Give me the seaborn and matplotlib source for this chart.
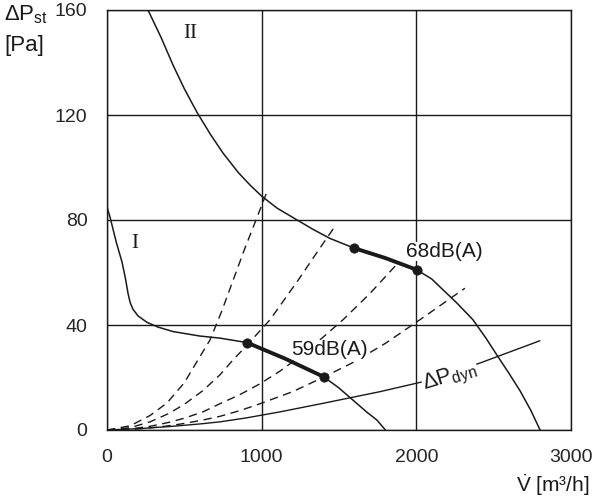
import matplotlib
matplotlib.use("Agg")
import matplotlib.pyplot as plt
import seaborn as sns

# ---- data ----
curve1_x = [0, 20, 60, 97, 120, 136, 150, 168, 200, 259, 330, 427, 600, 730, 905, 1151, 1403, 1500, 1590, 1680, 1745, 1800]
curve1_y = [85, 81, 71.5, 64, 57.5, 52, 48.5, 46, 43.5, 41, 39.2, 37.5, 35.8, 35, 33.3, 27.2, 20.2, 16, 11.4, 6.8, 3.8, 0]

curve2_x = [265, 350, 427, 500, 582, 670, 750, 850, 930, 1002, 1100, 1215, 1330, 1441, 1597, 1800, 2004,
            2100, 2153, 2260, 2366, 2450, 2527, 2600, 2670, 2740, 2800]
curve2_y = [160, 149.5, 139, 130, 121, 112.5, 105.5, 98, 93, 89, 84.5, 80.5, 76.5, 73, 69.3, 65.5, 61,
            57.5, 54.5, 48.5, 42, 35, 28, 21.5, 15, 7.5, 0]

thick1_x = [905, 1151, 1403]
thick1_y = [33.3, 27.2, 20.2]
thick2_x = [1597, 1800, 2004]
thick2_y = [69.3, 65.5, 61]

dash1_x = [0, 150, 278, 388, 500, 588, 666, 740, 815, 890, 970, 1041]
dash1_y = [0, 1.6, 5.5, 10.3, 18, 26.7, 34.3, 45, 57, 69, 81, 91.8]
dash2_x = [0, 150, 278, 400, 500, 620, 730, 815, 900, 1054, 1235, 1350, 1467]
dash2_y = [0, 0.9, 3.1, 6.3, 9.8, 15, 21, 26.7, 32, 42, 57, 67, 77]
dash3_x = [0, 150, 278, 400, 500, 620, 730, 860, 989, 1120, 1248, 1390, 1526, 1700, 1881]
dash3_y = [0, 0.4, 1.4, 2.9, 4.5, 6.9, 10, 13.5, 17.6, 22.5, 28, 35, 42, 52, 63.6]
dash4_x = [0, 150, 278, 400, 500, 620, 730, 860, 989, 1200, 1403, 1600, 1800, 2023, 2314]
dash4_y = [0, 0.2, 0.8, 1.6, 2.5, 3.8, 5.2, 7.4, 10, 14.6, 20.2, 26, 33, 42, 54]

dyn_x = [0, 200, 400, 600, 730, 900, 1118, 1400, 1765, 2043, 2411, 2799]
dyn_y = [0, 0.5, 1.3, 2.3, 3.1, 4.6, 6.9, 10.2, 14.6, 18.4, 25.5, 34]

x_ticks = [0, 1000, 2000, 3000]
y_ticks = [0, 40, 80, 120, 160]

# ---- style ----
sns.set_style("white")
plt.rcParams["font.family"] = ["Liberation Sans", "DejaVu Sans"]
plt.rcParams["mathtext.fontset"] = "custom"
plt.rcParams["mathtext.rm"] = "Liberation Sans"
plt.rcParams["mathtext.it"] = "Liberation Sans:italic"
plt.rcParams["mathtext.bf"] = "Liberation Sans:bold"

INK = "#1a1a1a"
fig = plt.figure(figsize=(6, 5), dpi=100)
ax = fig.add_axes([107 / 600, 70 / 500, 464 / 600, 420 / 500])

def line(x, y, **kw):
    sns.lineplot(x=x, y=y, sort=False, estimator=None, ax=ax, color=INK, **kw)

dash = (0, (6, 4))
for dx, dy in [(dash1_x, dash1_y), (dash2_x, dash2_y), (dash3_x, dash3_y), (dash4_x, dash4_y)]:
    line(dx, dy, linewidth=1.0, linestyle=dash, zorder=2)

line(dyn_x, dyn_y, linewidth=1.0, zorder=2)
line(curve1_x, curve1_y, linewidth=1.1, zorder=4)
line(curve2_x, curve2_y, linewidth=1.1, zorder=4)
line(thick1_x, thick1_y, linewidth=2.8, zorder=4)
line(thick2_x, thick2_y, linewidth=2.8, zorder=4)

dots_x = [thick1_x[0], thick1_x[-1], thick2_x[0], thick2_x[-1]]
dots_y = [thick1_y[0], thick1_y[-1], thick2_y[0], thick2_y[-1]]
sns.scatterplot(x=dots_x, y=dots_y, ax=ax, color=INK, s=45, edgecolor=INK, zorder=5)

ax.set_xlim(0, 3000)
ax.set_ylim(0, 160)
ax.set_xticks(x_ticks)
ax.set_yticks(y_ticks)
ax.set_xticklabels([str(v) for v in x_ticks], fontsize=14)
ax.set_yticklabels([str(v) for v in y_ticks], fontsize=14)
ax.grid(True, color=INK, linewidth=1.0)
ax.set_axisbelow(True)
for s in ax.spines.values():
    s.set_visible(True)
    s.set_color(INK)
    s.set_linewidth(1.0)
ax.tick_params(direction="out", length=8, width=1.0, color=INK, pad=6)
ax.tick_params(axis="x", pad=6)
ax.set_xlabel("")
ax.set_ylabel("")

# annotations
box = dict(facecolor="white", edgecolor="none", pad=0.3)
ax.text(537, 151, "II", family="Liberation Serif", fontsize=15, ha="center", va="center", color=INK)
ax.text(181, 71, "I", family="Liberation Serif", fontsize=15, ha="center", va="center", color=INK)
ax.text(1441, 30.5, "59dB(A)", fontsize=15, ha="center", va="center", color=INK, zorder=3, bbox=box)
ax.text(2178, 68, "68dB(A)", fontsize=15, ha="center", va="center", color=INK, zorder=3, bbox=box)
ax.text(2220, 20, r"$\mathrm{\Delta P}_{\mathrm{dyn}}$", fontsize=16, ha="center", va="center",
        rotation=17, color=INK, zorder=3, bbox=dict(facecolor="white", edgecolor="none", pad=0.5))

fig.text(4 / 600, 1 - 3 / 500, r"$\mathrm{\Delta P}_{\mathrm{st}}$", fontsize=16, ha="left", va="top", color=INK)
fig.text(4 / 600, 1 - 46 / 500, "[Pa]", fontsize=16, ha="left", va="center", color=INK)
fig.text(590 / 600, 1 - 485 / 500, r"$\dot{\mathrm{V}}$ [m³/h]", fontsize=15, ha="right", va="center", color=INK)

fig.savefig("out.png", dpi=100)
